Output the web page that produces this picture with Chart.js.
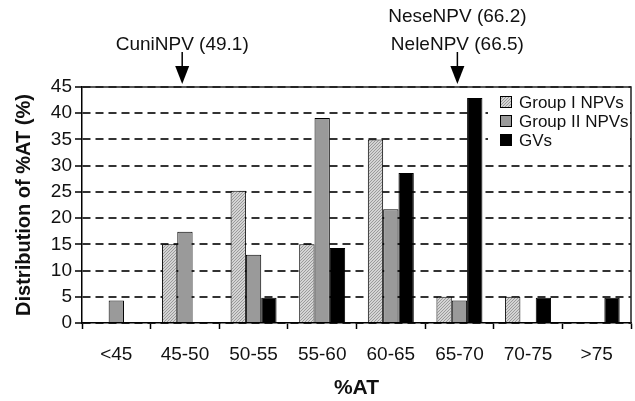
<!DOCTYPE html>
<html>
<head>
<meta charset="utf-8">
<script src="https://cdn.jsdelivr.net/npm/chart.js@4.4.0/dist/chart.umd.min.js"></script>
<style>
html,body{margin:0;padding:0;background:#fff;}
#wrap{width:635px;height:401px;position:relative;}
</style>
</head>
<body>
<div id="wrap"><canvas id="c" width="635" height="401"></canvas></div>
<script>
const categories = ['<45', '45-50', '50-55', '55-60', '60-65', '65-70', '70-75', '>75'];
const groupI  = [0, 15, 25.2, 15, 35, 5, 5, 0];
const groupII = [4.3, 17.4, 13.0, 39.1, 21.7, 4.3, 0, 0];
const gvs     = [0, 0, 4.8, 14.3, 28.6, 42.9, 4.8, 4.8];
const seriesNames = ['Group I NPVs', 'Group II NPVs', 'GVs'];
const yTicks = [0, 5, 10, 15, 20, 25, 30, 35, 40, 45];
const arrowNotes = [
  { lines: ['CuniNPV (49.1)'], at: 0.96 },
  { lines: ['NeseNPV (66.2)', 'NeleNPV (66.5)'], at: 4.97 }
];

const FONT = "'Liberation Sans', Arial, sans-serif";
const canvas = document.getElementById('c');
const ctx = canvas.getContext('2d');

function makeHatch() {
  const c = document.createElement('canvas');
  c.width = 3; c.height = 3;
  const g = c.getContext('2d');
  g.fillStyle = '#d4d4d4';
  g.fillRect(0, 0, 3, 3);
  g.fillStyle = '#9a9a9a';
  g.fillRect(2, 0, 1, 1);
  g.fillRect(1, 1, 1, 1);
  g.fillRect(0, 2, 1, 1);
  return ctx.createPattern(c, 'repeat');
}
const hatch = makeHatch();
const fills = [hatch, '#9a9a9a', '#000000'];

const framePlugin = {
  id: 'frame',
  afterDatasetsDraw(chart) {
    const a = chart.chartArea, c = chart.ctx;
    c.save();
    c.strokeStyle = '#222';
    c.lineWidth = 1.5;
    c.beginPath();
    c.moveTo(a.left, a.top); c.lineTo(a.right, a.top); c.lineTo(a.right, a.bottom);
    c.stroke();
    c.restore();
  }
};

const legendPlugin = {
  id: 'customLegend',
  afterDraw(chart) {
    const a = chart.chartArea, c = chart.ctx;
    c.save();
    c.fillStyle = '#fff';
    c.fillRect(a.right - 143, a.top + 1.5, 142, 66);
    c.font = '17px ' + FONT;
    c.textBaseline = 'middle';
    chart.data.datasets.forEach((ds, i) => {
      const y = a.top + 15 + i * 19;
      const x = a.right - 131;
      c.fillStyle = ds.backgroundColor;
      c.fillRect(x, y - 6, 12, 12);
      c.strokeStyle = '#000';
      c.lineWidth = 1;
      c.strokeRect(x + 0.5, y - 5.5, 11, 11);
      c.fillStyle = '#111';
      c.fillText(ds.label, x + 19, y + 1);
    });
    c.restore();
  }
};

const arrowPlugin = {
  id: 'arrows',
  afterDraw(chart) {
    const xs = chart.scales.x, a = chart.chartArea, c = chart.ctx;
    c.save();
    c.font = '19px ' + FONT;
    c.textAlign = 'center';
    c.textBaseline = 'middle';
    arrowNotes.forEach(n => {
      const x = xs.getPixelForValue(n.at);
      const last = n.lines.length - 1;
      c.fillStyle = '#111';
      n.lines.forEach((t, i) => {
        c.fillText(t, x, 45 - (last - i) * 28);
      });
      c.strokeStyle = '#000';
      c.lineWidth = 1.5;
      c.beginPath();
      c.moveTo(x, 52); c.lineTo(x, 68);
      c.stroke();
      c.fillStyle = '#000';
      c.beginPath();
      c.moveTo(x - 7, 66); c.lineTo(x + 7, 66); c.lineTo(x, a.top - 3);
      c.closePath();
      c.fill();
    });
    c.restore();
  }
};

new Chart(ctx, {
  type: 'bar',
  data: {
    labels: categories,
    datasets: [groupI, groupII, gvs].map((d, i) => ({
      label: seriesNames[i],
      data: d,
      backgroundColor: fills[i],
      borderColor: '#000',
      borderWidth: 1,
      borderSkipped: 'bottom',
      categoryPercentage: 0.67,
      barPercentage: 1.0
    }))
  },
  options: {
    responsive: false,
    animation: false,
    devicePixelRatio: 1,
    layout: { padding: { top: 87, right: 4, left: 0, bottom: 0 } },
    plugins: { legend: { display: false }, tooltip: { enabled: false } },
    scales: {
      x: {
        afterFit(s) { s.height = 78; },
        grid: { offset: true, drawOnChartArea: false, drawTicks: true, tickLength: 6, tickColor: '#000', tickWidth: 1.5 },
        border: { display: true, color: '#000', width: 1.5 },
        ticks: { color: '#111', font: { family: FONT, size: 19 }, padding: 14, maxRotation: 0, autoSkip: false },
        title: { display: true, text: '%AT', color: '#111', font: { family: FONT, size: 21, weight: 'bold' }, padding: { top: 0, bottom: 0 } }
      },
      y: {
        min: 0, max: 45,
        afterFit(s) { s.width = 82; },
        afterBuildTicks(s) { s.ticks = yTicks.map(v => ({ value: v })); },
        grid: { color: '#333', lineWidth: 2, drawTicks: true, tickLength: 7, tickColor: '#000', tickWidth: 1.5, tickBorderDash: [] },
        border: { display: true, color: '#000', width: 1.5, dash: [8, 5] },
        ticks: { color: '#111', font: { family: FONT, size: 19 }, padding: 3 },
        title: { display: true, text: 'Distribution of %AT (%)', color: '#111', font: { family: FONT, size: 20, weight: 'bold' }, padding: { top: 12, bottom: 0 } }
      }
    }
  },
  plugins: [framePlugin, legendPlugin, arrowPlugin]
});
</script>
</body>
</html>
